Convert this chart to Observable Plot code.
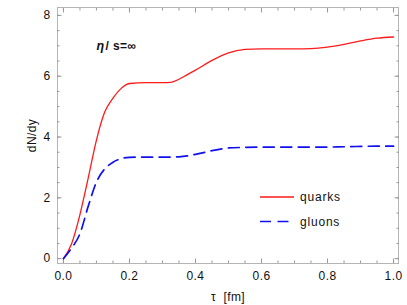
<!DOCTYPE html>
<html>
<head>
<meta charset="utf-8">
<script src="https://cdn.jsdelivr.net/npm/d3@7"></script>
<script src="https://cdn.jsdelivr.net/npm/@observablehq/plot@0.6"></script>
<style>
  html, body { margin: 0; padding: 0; background: #fff; }
  #wrap { position: relative; width: 407px; height: 305px; }
  #legend { position: absolute; left: 0; top: 0; pointer-events: none; }
</style>
</head>
<body>
<div id="wrap"></div>
<script>
// --- data ---
const tau    = [0, 0.025, 0.05, 0.075, 0.1, 0.125, 0.15, 0.175, 0.2, 0.25, 0.3, 0.325, 0.35, 0.375, 0.4, 0.45, 0.5, 0.55, 0.6, 0.65, 0.7, 0.75, 0.8, 0.85, 0.9, 0.95, 1.0];
const quarks = [0, 0.5, 1.45, 2.65, 3.9, 4.82, 5.28, 5.6, 5.76, 5.79, 5.79, 5.8, 5.9, 6.05, 6.2, 6.52, 6.77, 6.88, 6.9, 6.9, 6.9, 6.91, 6.96, 7.05, 7.16, 7.25, 7.29];
const gluons = [0, 0.35, 0.82, 1.72, 2.52, 2.95, 3.17, 3.29, 3.33, 3.34, 3.34, 3.34, 3.35, 3.38, 3.43, 3.55, 3.64, 3.66, 3.67, 3.67, 3.67, 3.67, 3.67, 3.68, 3.69, 3.7, 3.7];
const seriesNames = ["quarks", "gluons"];
const xTicks = [0, 0.2, 0.4, 0.6, 0.8, 1.0];
const yTicks = [0, 2, 4, 6, 8];
const xMinor = d3.range(0, 1.0001, 0.05);
const yMinor = d3.range(0, 8.0001, 0.5);
const annoSymbol = "η";
const annoRest = "/ s=∞";
const xLabel = "τ  [fm]";
const yLabel = "dN/dy";

const qData = tau.map((t, i) => ({tau: t, v: quarks[i]}));
const gData = tau.map((t, i) => ({tau: t, v: gluons[i]}));

const font = "'Liberation Sans', Arial, sans-serif";
const plot = Plot.plot({
  width: 407,
  height: 305,
  marginLeft: 57,
  marginRight: 9,
  marginTop: 7,
  marginBottom: 42,
  style: {fontFamily: font, fontSize: "12px", color: "#000", background: "#fff", letterSpacing: "0.4px"},
  x: {domain: [-0.018, 1.015]},
  y: {domain: [-0.16, 8.26]},
  marks: [
    Plot.frame({stroke: "#b4b4b4", strokeWidth: 1}),
    // inward tick marks on all four sides
    Plot.axisX(xMinor, {anchor: "bottom", tickSize: -2.5, text: null, label: null, stroke: "#999"}),
    Plot.axisX(xMinor, {anchor: "top", tickSize: -2.5, text: null, label: null, stroke: "#999"}),
    Plot.axisX(xTicks, {anchor: "bottom", tickSize: -4.5, text: null, label: null, stroke: "#999"}),
    Plot.axisX(xTicks, {anchor: "top", tickSize: -4.5, text: null, label: null, stroke: "#999"}),
    Plot.axisY(yMinor, {anchor: "left", tickSize: -2.5, text: null, label: null, stroke: "#999"}),
    Plot.axisY(yMinor, {anchor: "right", tickSize: -2.5, text: null, label: null, stroke: "#999"}),
    Plot.axisY(yTicks, {anchor: "left", tickSize: -4.5, text: null, label: null, stroke: "#999"}),
    Plot.axisY(yTicks, {anchor: "right", tickSize: -4.5, text: null, label: null, stroke: "#999"}),
    // tick labels
    Plot.axisX(xTicks, {anchor: "bottom", tickSize: 0, tickPadding: 8, tickFormat: d3.format(".1f"),
      label: xLabel, labelAnchor: "center", labelOffset: 37, labelArrow: "none", fill: "#111"}),
    Plot.axisY(yTicks, {anchor: "left", tickSize: 0, tickPadding: 7, tickFormat: d3.format("d"),
      label: yLabel, labelAnchor: "center", labelOffset: 30, labelArrow: "none", fill: "#111"}),
    Plot.line(qData, {x: "tau", y: "v", stroke: "#ff1a1a", strokeWidth: 1.3, curve: "monotone-x"}),
    Plot.line(gData, {x: "tau", y: "v", stroke: "#1010ee", strokeWidth: 1.7, strokeDasharray: "11,6.5", curve: "monotone-x"}),
    Plot.text([annoSymbol], {frameAnchor: "top-left", dx: 39, dy: 34, text: d => d, fontStyle: "italic", fontWeight: "bold", fontSize: 12.5, textAnchor: "start", fill: "#111"}),
    Plot.text([annoRest], {frameAnchor: "top-left", dx: 48, dy: 34, text: d => d, fontWeight: "bold", fontSize: 12, textAnchor: "start", fill: "#111"})
  ]
});
document.getElementById("wrap").appendChild(plot);

// legend overlay (inside plot area, lower right)
const lg = d3.select("#wrap").append("svg").attr("id", "legend")
  .attr("width", 407).attr("height", 305);
const legendItems = [
  {name: seriesNames[0], color: "#ff1a1a", dash: null, width: 1.3},
  {name: seriesNames[1], color: "#1010ee", dash: "11,6.5", width: 1.7}
];
legendItems.forEach((it, i) => {
  const y = 197 + i * 24.5;
  lg.append("line").attr("x1", 260).attr("x2", 294).attr("y1", y).attr("y2", y)
    .attr("stroke", it.color).attr("stroke-width", it.width)
    .attr("stroke-dasharray", it.dash);
  lg.append("text").attr("x", 300).attr("y", y).attr("dy", "0.35em")
    .attr("font-family", font).attr("font-size", "12px").attr("letter-spacing", "0.8px")
    .attr("fill", "#111").text(it.name);
});
</script>
</body>
</html>
